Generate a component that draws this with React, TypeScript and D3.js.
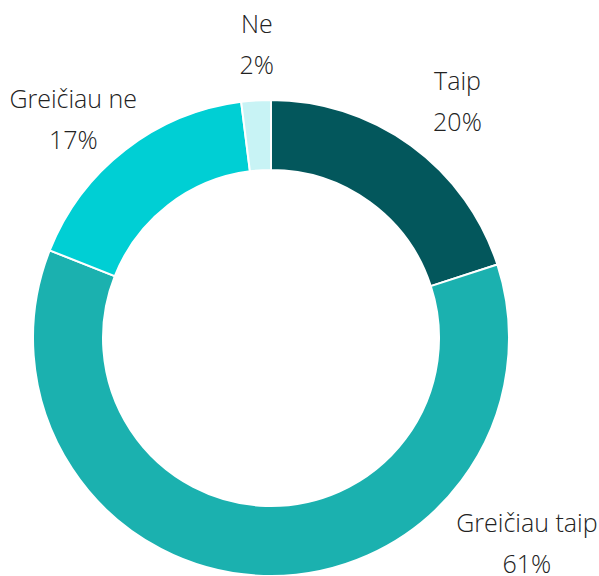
import React, { useEffect, useRef } from 'react';
import * as d3 from 'd3';

const categories = ['Taip', 'Greičiau taip', 'Greičiau ne', 'Ne'];
const values = [20, 61, 17, 2];
const colors = ['#03575C', '#1BB1AF', '#00CFD4', '#C8F3F5'];

// label shift from the ring position (Excel style placement)
const labelShift: [number, number][] = [[16, 7], [265, -76], [-20, 19], [4, 4]];

const App = () => {
  const svgRef = useRef<SVGSVGElement>(null);

  useEffect(() => {
    const width = 599;
    const height = 576;
    const cx = 271;
    const cy = 338;
    const outer = 238;
    const inner = 168;

    const svg = d3.select(svgRef.current);
    svg.selectAll('*').remove();
    svg.attr('width', width).attr('height', height);

    const g = svg.append('g').attr('transform', `translate(${cx},${cy})`);

    const pie = d3.pie<number>().sort(null).value((d) => d);
    const arcs = pie(values);

    const arc = d3.arc<d3.PieArcDatum<number>>().innerRadius(inner).outerRadius(outer);

    g.selectAll('path')
      .data(arcs)
      .enter()
      .append('path')
      .attr('d', arc)
      .attr('fill', (d, i) => colors[i])
      .attr('stroke', '#fff')
      .attr('stroke-width', 2);

    const labelArc = d3.arc<d3.PieArcDatum<number>>().innerRadius(290).outerRadius(290);

    const labels = g.selectAll('g.lbl')
      .data(arcs)
      .enter()
      .append('g')
      .attr('class', 'lbl')
      .attr('transform', (d, i) => {
        const [x, y] = labelArc.centroid(d);
        return `translate(${x + labelShift[i][0]},${y + labelShift[i][1]})`;
      })
      .style('font-family', '"Open Sans", "Segoe UI", sans-serif')
      .style('font-weight', 300)
      .style('font-size', '25px')
      .attr('fill', '#222')
      .attr('text-anchor', 'middle');

    labels.append('text')
      .attr('y', -20)
      .text((d, i) => categories[i]);

    labels.append('text')
      .attr('y', 21)
      .text((d) => `${d.data}%`);
  }, []);

  return (
    <svg ref={svgRef} style={{ position: 'absolute', left: 0, top: 0 }}></svg>
  );
};

export default App;
